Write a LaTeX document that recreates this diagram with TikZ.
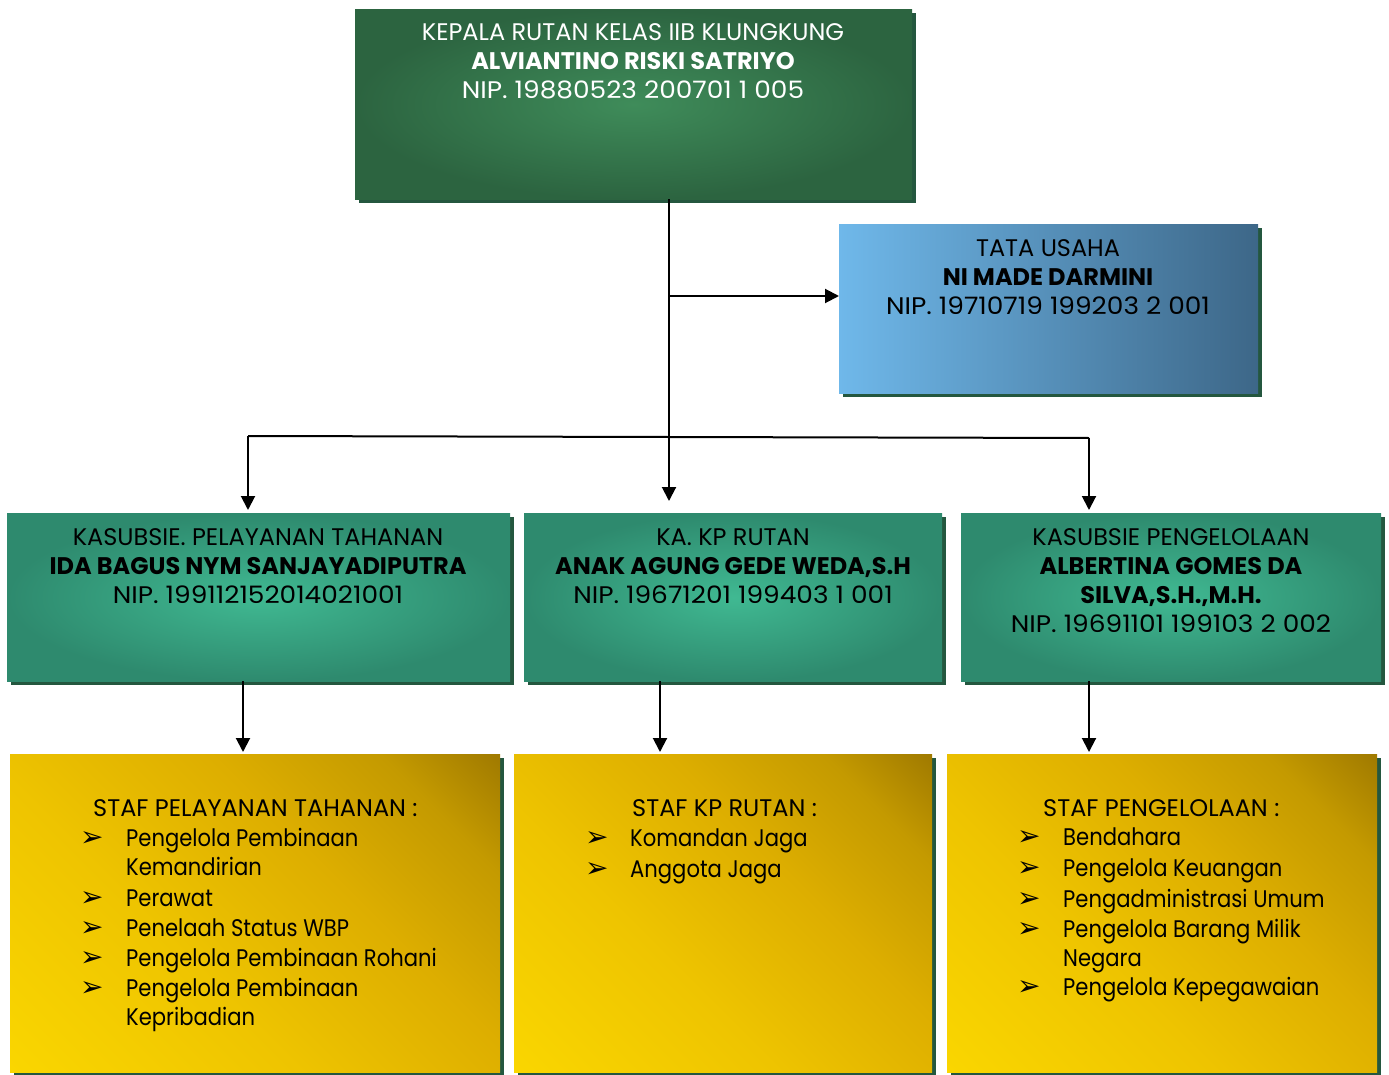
\documentclass[tikz,border=0pt]{standalone}
\usepackage{fontspec}
\setmainfont{Poppins}
\newfontfamily\listfont{Poppins}[FakeStretch=0.88]
\newfontfamily\nipfont{Poppins}[FakeStretch=1.1]
\newfontfamily\dejavu{DejaVu Sans}
\usetikzlibrary{arrows.meta,shadows,calc}
\definecolor{shadowc}{HTML}{24573F}
\definecolor{topin}{HTML}{3F8C5A}
\definecolor{topout}{HTML}{2C6440}
\definecolor{bluel}{HTML}{6FB8EA}
\definecolor{bluer}{HTML}{3D6788}
\definecolor{tealin}{HTML}{40B992}
\definecolor{tealout}{HTML}{2E8A6E}
\definecolor{yell}{HTML}{FAD600}
\definecolor{yelb}{HTML}{EEC400}
\definecolor{yelm}{HTML}{DDAE00}
\definecolor{yelc}{HTML}{C49A00}
\definecolor{yeld}{HTML}{A07A00}
\pgfdeclareverticalshading{yelshade}{100bp}{color(0bp)=(yell); color(14.6bp)=(yell); color(40bp)=(yelb); color(60bp)=(yelm); color(75bp)=(yelc); color(85.4bp)=(yeld); color(100bp)=(yeld)}
\begin{document}
\begin{tikzpicture}[x=1pt,y=-1pt,
  box/.style={rectangle, inner sep=0pt, anchor=north west, draw=none,
    drop shadow={shadow xshift=4pt, shadow yshift=-4pt, fill=shadowc, opacity=1}},
  topbox/.style={box, inner color=topin, outer color=topout},
  bluebox/.style={box, left color=bluel, right color=bluer},
  tealbox/.style={box, inner color=tealin, outer color=tealout},
  yelbox/.style={box, shading=yelshade, shading angle=-45},
  txt/.style={anchor=base, inner sep=0pt, font=\fontsize{24}{29}\selectfont},
  btxt/.style={txt, font=\fontsize{24}{29}\selectfont\bfseries},
  ntxt/.style={txt, font=\nipfont\fontsize{24}{29}\selectfont},
  ltxt/.style={anchor=base west, inner sep=0pt, font=\fontsize{24}{29}\selectfont},
  itxt/.style={anchor=base west, inner sep=0pt, font=\listfont\fontsize{24}{29}\selectfont},
  bul/.style={anchor=base west, inner sep=0pt, font=\dejavu\fontsize{28}{29}\selectfont},
  arr/.style={draw, line width=2pt, -{Triangle[width=14pt,length=14pt]}},
  lin/.style={draw, line width=2pt}]
\useasboundingbox (0,0) rectangle (1389,1075);
% boxes
\node[topbox, minimum width=557pt, minimum height=190pt] (kepala) at (355,9) {};
\node[bluebox, minimum width=419pt, minimum height=169pt] (tu) at (839,224) {};
\node[tealbox, minimum width=503pt, minimum height=168pt] (pel) at (7,513) {};
\node[tealbox, minimum width=418pt, minimum height=168pt] (kp) at (524,513) {};
\node[tealbox, minimum width=420pt, minimum height=168pt] (pen) at (961,513) {};
\node[yelbox, minimum width=490pt, minimum height=318pt] (spel) at (10,754) {};
\node[yelbox, minimum width=418pt, minimum height=318pt] (skp) at (514,754) {};
\node[yelbox, minimum width=430pt, minimum height=318pt] (spen) at (947,754) {};
% connectors
\coordinate (trunk) at (669,296);
\coordinate (hl) at (248,436);
\coordinate (hr) at (1089,438);
\draw[lin] (kepala.south -| trunk) -- (trunk);
\draw[arr] (trunk) -- (tu.west |- trunk);
\draw[arr, shorten >=12pt] (trunk) -- (kp.north -| trunk);
\draw[lin] (hl) -- (hr);
\draw[arr, shorten >=3pt] (hl) -- (pel.north -| hl);
\draw[arr, shorten >=3pt] (hr) -- (pen.north -| hr);
\draw[arr, shorten >=2pt] ($(pel.south west)+(236,0)$) -- ($(spel.north west)+(233,0)$);
\draw[arr, shorten >=2pt] ($(kp.south west)+(136,0)$) -- ($(skp.north west)+(146,0)$);
\draw[arr, shorten >=2pt] ($(pen.south west)+(128,0)$) -- ($(spen.north west)+(142,0)$);
% top text
\node[txt, white] (k1) at (633,41) {KEPALA RUTAN KELAS IIB KLUNGKUNG};
\node[btxt, white] (k2) at (633,70) {ALVIANTINO RISKI SATRIYO};
\node[ntxt, white] (k3) at (633,99) {NIP. 19880523 200701 1 005};
% tata usaha
\node[txt] (u1) at (1048,257) {TATA USAHA};
\node[btxt] (u2) at (1048,286) {NI MADE DARMINI};
\node[ntxt] (u3) at (1048,315) {NIP. 19710719 199203 2 001};
% level 2
\node[txt] (p1) at (258,545) {KASUBSIE. PELAYANAN TAHANAN};
\node[btxt] (p2) at (258,574) {IDA BAGUS NYM SANJAYADIPUTRA};
\node[ntxt] (p3) at (258,603) {NIP. 199112152014021001};
\node[txt] (c1) at (733,545) {KA. KP RUTAN};
\node[btxt] (c2) at (733,574) {ANAK AGUNG GEDE WEDA,S.H};
\node[ntxt] (c3) at (733,603) {NIP. 19671201 199403 1 001};
\node[txt] (e1) at (1171,545) {KASUBSIE PENGELOLAAN};
\node[btxt] (e2) at (1171,574) {ALBERTINA GOMES DA};
\node[btxt] (e3) at (1171,603) {SILVA,S.H.,M.H.};
\node[ntxt] (e4) at (1171,632) {NIP. 19691101 199103 2 002};
% staff left
\node[ltxt] (sl0) at (93,816) {STAF PELAYANAN TAHANAN :};
\node[bul] (bl1) at (80,846) {➢};
\node[itxt] (sl1) at (126,846) {Pengelola Pembinaan};
\node[itxt] (sl1b) at (126,875) {Kemandirian};
\node[bul] (bl2) at (80,906) {➢};
\node[itxt] (sl2) at (126,906) {Perawat};
\node[bul] (bl3) at (80,936) {➢};
\node[itxt] (sl3) at (126,936) {Penelaah Status WBP};
\node[bul] (bl4) at (80,966) {➢};
\node[itxt] (sl4) at (126,966) {Pengelola Pembinaan Rohani};
\node[bul] (bl5) at (80,996) {➢};
\node[itxt] (sl5) at (126,996) {Pengelola Pembinaan};
\node[itxt] (sl5b) at (126,1025) {Kepribadian};
% staff middle
\node[ltxt] (sm0) at (632,816) {STAF KP RUTAN :};
\node[bul] (bm1) at (585,846) {➢};
\node[itxt] (sm1) at (630,846) {Komandan Jaga};
\node[bul] (bm2) at (585,877) {➢};
\node[itxt] (sm2) at (630,877) {Anggota Jaga};
% staff right
\node[ltxt] (sr0) at (1043,816) {STAF PENGELOLAAN :};
\node[bul] (br1) at (1017,845) {➢};
\node[itxt] (sr1) at (1063,845) {Bendahara};
\node[bul] (br2) at (1017,876) {➢};
\node[itxt] (sr2) at (1063,876) {Pengelola Keuangan};
\node[bul] (br3) at (1017,907) {➢};
\node[itxt] (sr3) at (1063,907) {Pengadministrasi Umum};
\node[bul] (br4) at (1017,937) {➢};
\node[itxt] (sr4) at (1063,937) {Pengelola Barang Milik};
\node[itxt] (sr4b) at (1063,966) {Negara};
\node[bul] (br5) at (1017,995) {➢};
\node[itxt] (sr5) at (1063,995) {Pengelola Kepegawaian};
\end{tikzpicture}
\end{document}
